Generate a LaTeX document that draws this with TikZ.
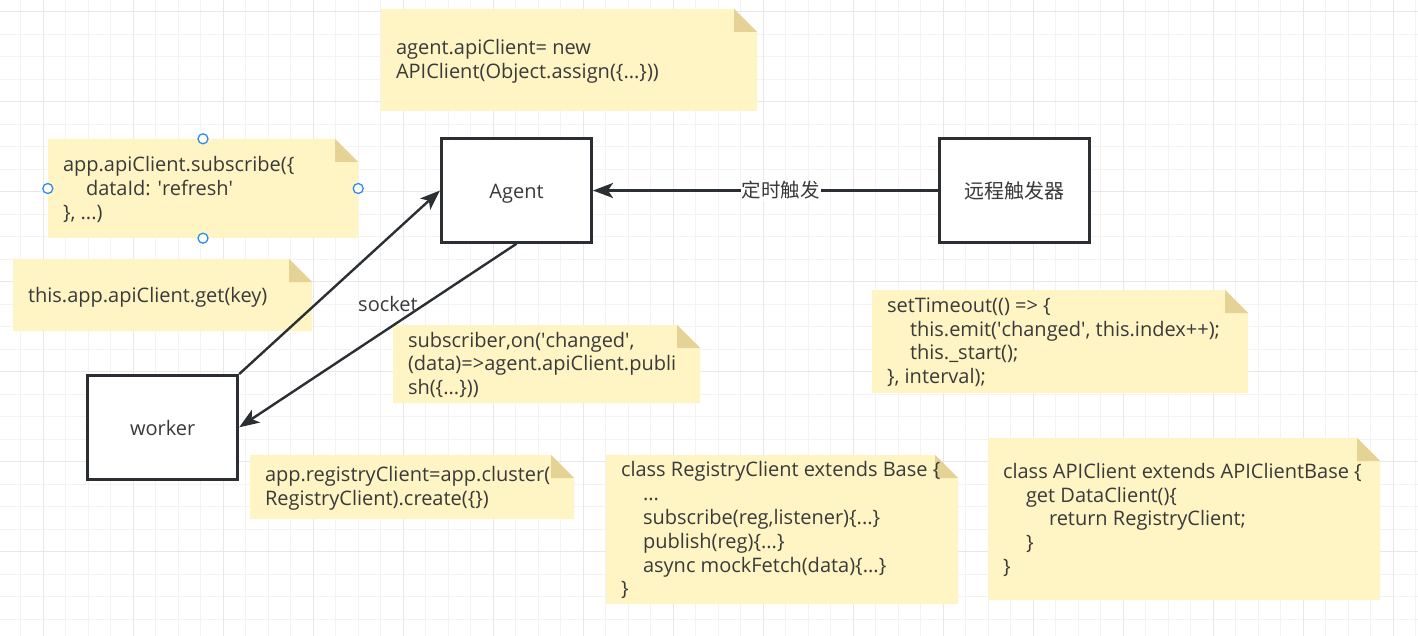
\documentclass[tikz,border=0pt]{standalone}
\usepackage{fontspec}
\setmainfont{Open Sans}
\newfontfamily\cjk{Noto Sans CJK SC}
\usetikzlibrary{arrows.meta}
\definecolor{gridminor}{HTML}{F3F3F3}
\definecolor{gridmajor}{HTML}{E8E8E8}
\definecolor{notefill}{HTML}{FFF4C3}
\definecolor{foldfill}{HTML}{E5D396}
\definecolor{ink}{HTML}{3A3A3A}
\definecolor{edgecol}{HTML}{2B2F33}
\definecolor{handlecol}{HTML}{2F8CEB}
\tikzset{
  noteframe/.style={draw=none, inner sep=0pt, rectangle},
  notetext/.style={anchor=west, align=left, inner sep=0pt, text=ink,
    font=\fontsize{20}{23.8}\selectfont,
    execute at begin node=\strut, execute at end node=\strut},
  box/.style={draw=edgecol, line width=3pt, fill=white, minimum width=150pt,
    minimum height=103.5pt, text=ink, font=\fontsize{20}{24}\selectfont, inner sep=0pt,
    text height=18pt, text depth=2pt},
  arrow/.style={draw=edgecol, line width=2.4pt,
    -{Stealth[length=20pt, width=15pt, inset=5pt]}},
  handle/.style={circle, draw=handlecol, fill=white, line width=1.3pt,
    minimum size=10pt, inner sep=0pt},
  lbl/.style={text=ink, font=\fontsize{20}{24}\selectfont, inner sep=1pt},
}
\newcommand\drawnote[6]{%
  \fill[notefill] (#2,#3) -- ({#4-23},#3) -- (#4,{#3+23}) -- (#4,#5) -- (#2,#5) -- cycle;
  \fill[foldfill] ({#4-23},#3) -- ({#4-23},{#3+23}) -- (#4,{#3+23}) -- cycle;
  \node[noteframe, minimum width={#4-#2}, minimum height={#5-#3}] (#1) at ({(#2+#4)/2},{(#3+#5)/2}) {};
  \node[notetext] (#1-text) at ([xshift=15pt, yshift=-2.8pt]#1.west) {#6};
}
\begin{document}
\begin{tikzpicture}[x=1pt, y=-1pt]
\useasboundingbox (0,0) rectangle (1418,636);
\fill[white] (0,0) rectangle (1418,636);
% grid
\foreach \x in {20.8,43.3,...,1418} \draw[gridminor, line width=1pt] (\x,0) -- (\x,636);
\foreach \y in {11.7,34.2,...,636} \draw[gridminor, line width=1pt] (0,\y) -- (1418,\y);
\foreach \x in {43.3,133.3,...,1418} \draw[gridmajor, line width=1pt] (\x,0) -- (\x,636);
\foreach \y in {11.7,101.7,...,636} \draw[gridmajor, line width=1pt] (0,\y) -- (1418,\y);

% notes
\drawnote{ntop}{381}{9}{757}{111}{agent.apiClient= new\\APIClient(Object.assign(\{...\}))}
\drawnote{nsub}{48}{139}{358}{238}{app.apiClient.subscribe(\{\\\hspace*{23pt}dataId: \textquotesingle refresh\textquotesingle\\\}, ...)}
\drawnote{nget}{13}{259}{312}{331}{this.app.apiClient.get(key)}
\drawnote{npub}{393}{325}{700}{403}{subscriber,on(\textquotesingle changed\textquotesingle,\\(data)=>agent.apiClient.publi\\sh(\{...\}))}
\drawnote{ntime}{872}{290}{1248}{393}{setTimeout(() => \{\\\hspace*{23pt}this.emit(\textquotesingle changed\textquotesingle, this.index++);\\\hspace*{23pt}this.\_start();\\\}, interval);}
\drawnote{nreg}{250}{455}{574}{519}{app.registryClient=app.cluster(\\RegistryClient).create(\{\})}
\drawnote{nregc}{606}{455}{958}{604}{class RegistryClient extends Base \{\\\hspace*{22pt}...\\\hspace*{22pt}subscribe(reg,listener)\{...\}\\\hspace*{22pt}publish(reg)\{...\}\\\hspace*{22pt}async mockFetch(data)\{...\}\\\}}
\drawnote{napic}{988}{438}{1380}{600}{class APIClient extends APIClientBase \{\\\hspace*{23pt}get DataClient()\{\\\hspace*{46pt}return RegistryClient;\\\hspace*{23pt}\}\\\}}

% boxes
\node[box] (agent) at (516.5,190.5) {Agent};
\node[box] (trigger) at (1014,190.5) {\cjk 远程触发器};
\node[box] (worker) at (162.7,427.3) {worker};

% connectors
\draw[arrow] (trigger.west) -- node[pos=0.455, fill=white, text=ink, inner sep=1pt,
  font=\cjk\fontsize{19.5}{22}\selectfont] (tlabel) {定时触发} (agent.east);
\draw[arrow] (worker.north east) -- (agent.west);
\draw[arrow] (agent.south) -- (worker.east);
\node[lbl] (socket) at (388,304) {socket};

% selection handles
\node[handle] (hn) at (nsub.north) {};
\node[handle] (hs) at (nsub.south) {};
\node[handle] (hw) at (nsub.west) {};
\node[handle] (he) at (nsub.east) {};
\end{tikzpicture}
\end{document}
